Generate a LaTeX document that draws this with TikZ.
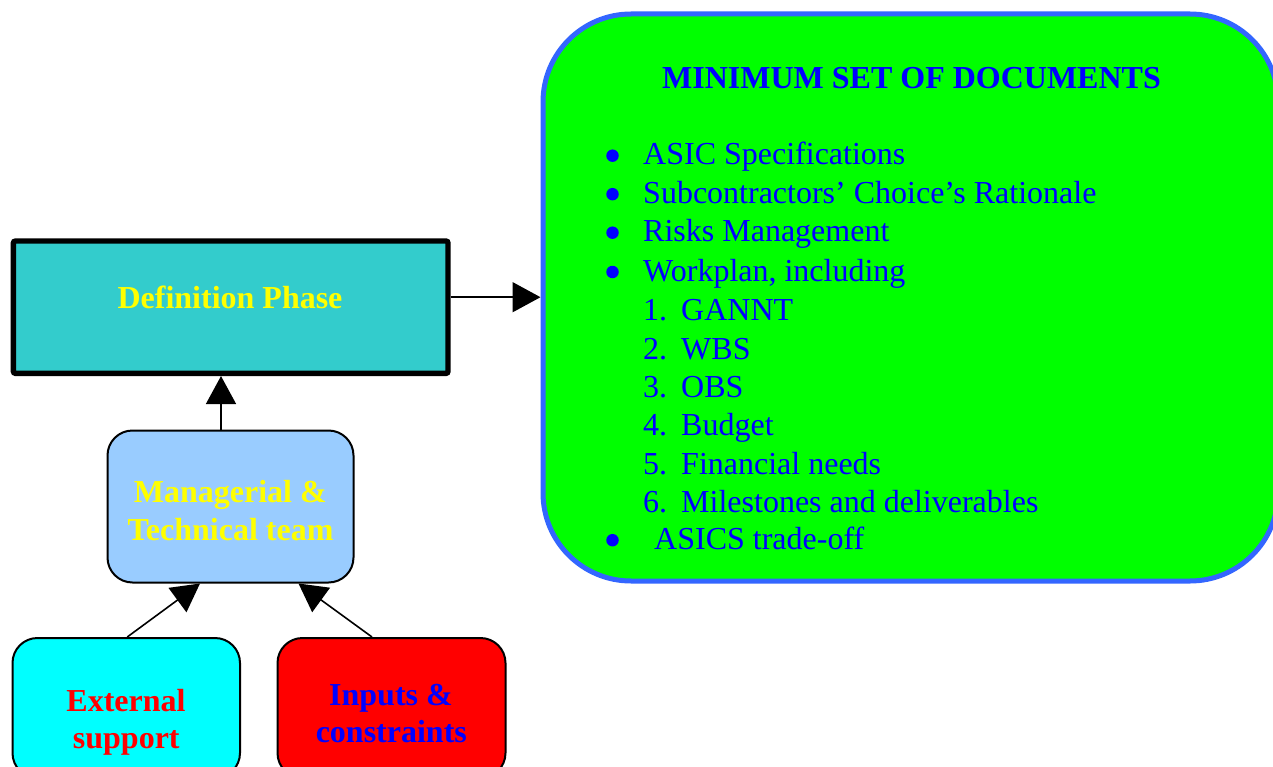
\documentclass[tikz,border=0pt]{standalone}
\usepackage{fontspec}
\setmainfont{Liberation Serif}
\usetikzlibrary{arrows.meta,calc}

\definecolor{tealfill}{HTML}{33CCCC}
\definecolor{skyfill}{HTML}{99CCFF}
\definecolor{aquafill}{HTML}{00FFFF}
\definecolor{redfill}{HTML}{FF0000}
\definecolor{docgreen}{HTML}{00FF00}
\definecolor{docedge}{HTML}{3366FF}
\definecolor{txtblue}{HTML}{0000FF}
\definecolor{txtyellow}{HTML}{FFFF00}
\definecolor{txtred}{HTML}{FF0000}

\begin{document}
\begin{tikzpicture}[x=1pt,y=-1pt,
  roundbox/.style={draw=black, line width=2pt, rounded corners=25pt,
    inner sep=0pt, rectangle},
  conn/.style={draw=black, line width=1.6pt,
    -{Triangle[length=28pt,width=30pt]}},
  txt/.style={inner sep=0pt, anchor=base, font=\fontsize{32}{38}\selectfont},
  boldtxt/.style={txt, font=\fontsize{32}{38}\selectfont\bfseries},
  listtxt/.style={txt, anchor=base west, text=txtblue},
  bulletdot/.style={circle, fill=txtblue, inner sep=0pt, minimum size=12.5pt},
]
\useasboundingbox (0,0) rectangle (1273,767);
\clip (0,0) rectangle (1273,767);

% ---- boxes ----
\node[draw=black, line width=5.4pt, fill=tealfill, rounded corners=2pt,
      inner sep=0pt, minimum width=434.6pt, minimum height=132.3pt]
      (def) at (230.7,307.2) {};
\node[roundbox, fill=skyfill, minimum width=246pt, minimum height=152pt]
      (mgr) at (230.5,506.5) {};
\node[roundbox, fill=aquafill, minimum width=227.5pt, minimum height=140pt]
      (ext) at (126.25,708) {};
\node[roundbox, fill=redfill, minimum width=228pt, minimum height=140pt]
      (inp) at (391.5,708) {};
\node[draw=docedge, line width=5pt, fill=docgreen, rounded corners=88pt,
      inner sep=0pt, minimum width=735pt, minimum height=567pt]
      (doc) at (910.5,297.5) {};

% ---- box labels ----
\node[boldtxt, text=txtyellow] (defT) at (230,308) {Definition Phase};
\node[boldtxt, text=txtyellow] (mgrA) at (230.3,502) {Managerial \&};
\node[boldtxt, text=txtyellow] (mgrB) at (230.5,540) {Technical team};
\node[boldtxt, text=txtred] (extA) at (126,711.7) {External};
\node[boldtxt, text=txtred] (extB) at (126.3,748) {support};
\node[boldtxt, text=txtblue] (inpA) at (391,705) {Inputs \&};
\node[boldtxt, text=txtblue] (inpB) at (391.3,742) {constraints};

% ---- document list ----
\node[boldtxt, text=txtblue] (title) at (911.5,88.3) {MINIMUM SET OF DOCUMENTS};

\foreach \i/\y in {1/165.0,2/203.5,3/242.0,4/281.3,11/549.5}
  \node[bulletdot] (b\i) at (612.5,\y-9.3) {};

\node[listtxt] (l1) at (643,165.0) {ASIC Specifications};
\node[listtxt] (l2) at (643,203.5) {Subcontractors’ Choice’s Rationale};
\node[listtxt] (l3) at (643,242.0) {Risks Management};
\node[listtxt] (l4) at (643,281.3) {Workplan, including};
\foreach \n/\y/\t in {1/320.5/GANNT, 2/359.0/WBS, 3/397.4/OBS, 4/435.8/Budget,
    5/474.2/Financial needs, 6/512.0/Milestones and deliverables}{
  \node[listtxt] (n\n) at (643,\y) {\n.};
  \node[listtxt] (w\n) at (681,\y) {\t};
}
\node[listtxt] (l11) at (654,549.5) {ASICS trade-off};

% ---- connectors ----
\draw[conn] ([yshift=10pt]def.east) -- ([yshift=10pt]def.east -| doc.west);
\draw[conn] ([xshift=-9.5pt]mgr.north) -- ([xshift=-9.5pt]mgr.north |- def.south);
\draw[conn] ([xshift=1pt]ext.north) -- ([xshift=-30.5pt]mgr.south);
\draw[conn] ([xshift=-19.5pt]inp.north) -- ([xshift=68pt]mgr.south);
\end{tikzpicture}
\end{document}
